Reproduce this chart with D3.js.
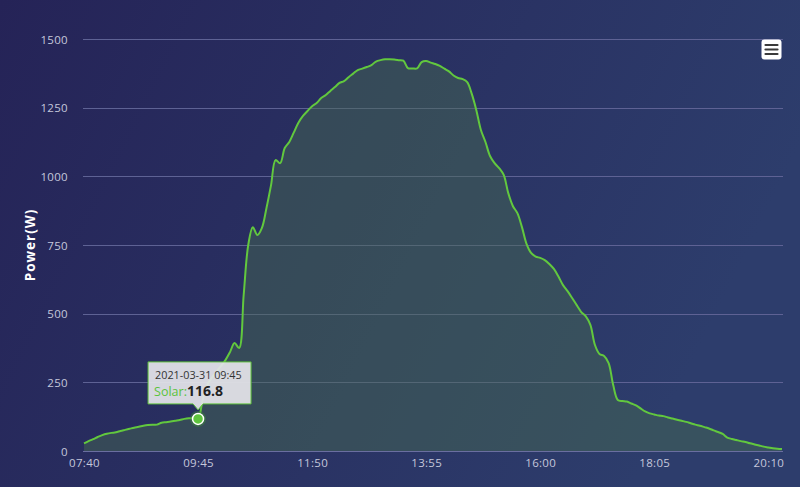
<!DOCTYPE html>
<html><head><meta charset="utf-8">
<script src="https://cdn.jsdelivr.net/npm/d3@7"></script>
<style>
html,body{margin:0;padding:0;background:#25235a;}
svg{display:block;}
text{font-family:"Open Sans","Noto Sans",sans-serif;}
</style></head>
<body>
<svg id="chart" width="800" height="487"></svg>
<script>
const startTime = "07:40";
const stepMinutes = 5;
const solarValues = [
 28,36,43,51,58,63,66,68,73,77,
 81,85,88,92,95,96,96,103,105,107,
 110,113,117,119,119,116.8,186,240,266,288,
 309,331,360,393,375,568,750,815,786,812,
 885,968,1059,1048,1103,1125,1160,1195,1220,1238,
 1255,1267,1285,1296,1311,1325,1340,1347,1361,1374,
 1387,1392,1398,1405,1418,1423,1426,1426,1425,1423,
 1421,1394,1393,1393,1416,1420,1414,1409,1402,1392,
 1382,1367,1358,1354,1343,1300,1241,1169,1125,1074,
 1048,1030,1005,939,892,866,815,754,721,708,
 703,695,681,663,635,604,582,557,531,506,
 490,459,386,353,346,320,240,186,182,180,
 173,166,155,144,137,133,129,127,122,118,
 114,110,106,101,96,92,87,82,75,69,
 62,49,44,40,36,33,28,24,20,16,
 13,10,8,7
];
const yTicks = [0,250,500,750,1000,1250,1500];
const xTickLabels = ["07:40","09:45","11:50","13:55","16:00","18:05","20:10"];
const tooltipIndex = 25;
const tooltipDate = "2021-03-31";
const seriesName = "Solar";
const yAxisTitle = "Power(W)";

function fmt(m){const h=Math.floor(m/60),mm=m%60;return String(h).padStart(2,"0")+":"+String(mm).padStart(2,"0");}
const [sh,sm]=startTime.split(":").map(Number);
const times = solarValues.map((v,i)=>fmt(sh*60+sm+i*stepMinutes));
const data = solarValues.map((v,i)=>({t:times[i],v}));

const svg=d3.select("#chart");
const W=800,H=487;
const defs=svg.append("defs");
const bg=defs.append("linearGradient").attr("id","bg").attr("x1","0").attr("y1","0").attr("x2","1").attr("y2","0.3");
bg.append("stop").attr("offset","0").attr("stop-color","#252357");
bg.append("stop").attr("offset","1").attr("stop-color","#2d3d6c");
svg.append("rect").attr("width",W).attr("height",H).attr("fill","url(#bg)");

const x=d3.scalePoint().domain(times).range([84,782]);
const y=d3.scaleLinear().domain([0,1500]).range([451,39]);

// grid
const grid=svg.append("g");
grid.selectAll("line").data(yTicks).join("line")
 .attr("x1",83).attr("x2",783).attr("y1",d=>Math.round(y(d))+0.5).attr("y2",d=>Math.round(y(d))+0.5)
 .attr("stroke","#5e6294").attr("stroke-width",1);

// y axis labels
const yAxis=d3.axisLeft(y).tickValues(yTicks).tickFormat(d3.format("d")).tickSize(0).tickPadding(0);
const gy=svg.append("g").attr("transform","translate(68,0)").call(yAxis);
gy.select(".domain").remove();
gy.selectAll("text").attr("fill","#c5c7db").attr("font-size",11.5).attr("letter-spacing","0.3px").attr("dy","0.35em");

// x axis
const xAxis=d3.axisBottom(x).tickValues(xTickLabels).tickSize(0).tickPadding(0);
const gx=svg.append("g").attr("transform","translate(0,451)").call(xAxis);
gx.select(".domain").attr("stroke","#6a6ea0").attr("d","M83,0.5H783");
gx.selectAll("text").attr("fill","#c5c7db").attr("font-size",11.5).attr("letter-spacing","0.3px").attr("dy","1.05em").attr("y",4);

// y title
svg.append("text").attr("transform","translate(35,245) rotate(-90)").attr("text-anchor","middle")
 .attr("fill","#ffffff").attr("font-size",13.5).attr("font-weight","bold").attr("letter-spacing","1px").text(yAxisTitle);

const curve=d3.curveCatmullRom.alpha(0.5);
const area=d3.area().x(d=>x(d.t)).y0(y(0)).y1(d=>y(d.v)).curve(curve);
const line=d3.line().x(d=>x(d.t)).y(d=>y(d.v)).curve(curve);
svg.append("path").datum(data).attr("d",area).attr("fill","#486c4f").attr("fill-opacity",0.45);
svg.append("path").datum(data).attr("d",line).attr("fill","none").attr("stroke","#62c83e").attr("stroke-width",2);

// highlighted point
const pd=data[tooltipIndex];
const px=x(pd.t), py=y(pd.v);
svg.append("circle").attr("cx",px).attr("cy",py).attr("r",8).attr("fill","#3f8a3a").attr("fill-opacity",0.45);
svg.append("circle").attr("cx",px).attr("cy",py).attr("r",5.5).attr("fill","#5ec43e").attr("stroke","#ffffff").attr("stroke-width",1.5);

// tooltip
const tw=103, th=42;
const tx=px-50, ty=py-57;
const tt=svg.append("g");
const pathD=`M${tx},${ty} H${tx+tw} V${ty+th} H${px+5} L${px},${ty+th+6} L${px-5},${ty+th} H${tx} Z`;
tt.append("path").attr("d",pathD).attr("fill","#e4e4ea").attr("fill-opacity",0.93).attr("stroke","#5cbf3a").attr("stroke-width",1);
tt.append("text").attr("x",tx+7).attr("y",ty+17).attr("font-size",10.8).attr("fill","#333").text(tooltipDate+" "+pd.t);
const t2=tt.append("text").attr("x",tx+6).attr("y",ty+34).attr("font-size",12.5);
t2.append("tspan").attr("fill","#5cc33c").text(seriesName+":");
t2.append("tspan").attr("fill","#222").attr("font-weight","bold").attr("font-size",14).text(pd.v);

// menu icon
const mg=svg.append("g");
mg.append("rect").attr("x",761.5).attr("y",39.5).attr("width",20).attr("height",20).attr("rx",3).attr("fill","#ffffff");
[45,49.5,54].forEach(yy=>mg.append("line").attr("x1",765.5).attr("x2",777.5).attr("y1",yy).attr("y2",yy).attr("stroke","#3a3a3a").attr("stroke-width",2.2).attr("stroke-linecap","round"));
</script>
</body></html>
